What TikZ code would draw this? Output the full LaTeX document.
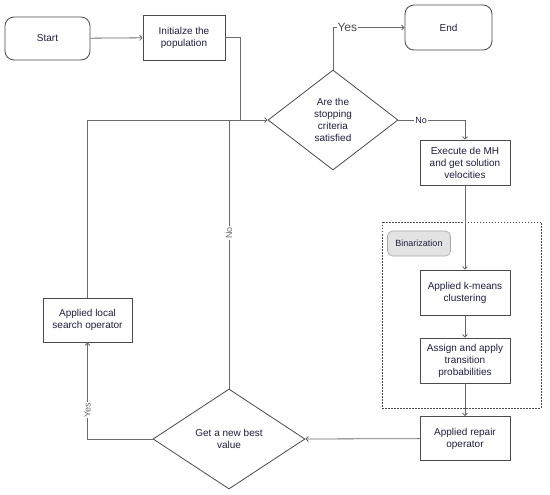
\documentclass[tikz,border=0pt]{standalone}
\usepackage{fontspec}
\setmainfont{Liberation Sans}
\usetikzlibrary{shapes.geometric,arrows.meta}
\definecolor{txt}{HTML}{1E1E40}
\definecolor{ln}{HTML}{6A6A6A}
\definecolor{bd}{HTML}{4A4A4A}
\tikzset{
  base/.style={draw=bd, line width=0.8pt, text=txt, font=\fontsize{10}{12}\selectfont, align=center, inner sep=2pt},
  procbox/.style={base, rectangle, minimum width=#1},
  procbox/.default=90pt,
  termbox/.style={base, rectangle, rounded corners=9pt},
  decbox/.style={base, diamond, inner sep=0pt},
  binbox/.style={draw=gray!70, fill=gray!22, rounded corners=5pt, line width=0.6pt, text=txt, font=\fontsize{9}{11}\selectfont, minimum width=63pt, minimum height=25pt},
  conn/.style={draw=ln, line width=0.8pt},
  arr/.style={conn, -{Straight Barb[length=2.5pt,width=5pt]}},
  lab/.style={fill=white, inner sep=1pt, text=txt, font=\fontsize{9}{10}\selectfont},
}
\begin{document}
\begin{tikzpicture}[x=1pt,y=-1pt]
\useasboundingbox (0,0) rectangle (550,495);
% dashed group
\draw[bd, line width=0.6pt, dash pattern=on 1.5pt off 1.5pt] (382,222) rectangle (541,408);
\node[binbox] (bin) at (419,243.5) {Binarization};
% nodes
\node[termbox, minimum width=85pt, minimum height=43pt] (start) at (47.5,38.5) {Start};
\node[procbox=82pt, minimum height=45pt] (init) at (184,37.5) {Initialze the\\population};
\node[decbox, minimum width=130pt, minimum height=100pt] (d1) at (333,120) {Are the\\stopping\\criteria\\satisfied};
\node[termbox, minimum width=87pt, minimum height=45pt] (end) at (448.5,27.5) {End};
\node[procbox, minimum height=45pt] (exec) at (465,162.5) {Execute de MH\\and get solution\\velocities};
\node[procbox, minimum height=45pt] (kmeans) at (465,292.5) {Applied k-means\\clustering};
\node[procbox, minimum height=45pt] (assign) at (465,360.5) {Assign and apply\\transition\\probabilities};
\node[procbox, minimum height=44pt] (repair) at (465,438.5) {Applied repair\\operator};
\node[decbox, minimum width=152pt, minimum height=100pt] (d2) at (229,439) {Get a new best\\value};
\node[procbox=89pt, minimum height=44pt] (local) at (87.5,320) {Applied local\\search operator};
\coordinate (j1) at (240,120);
% connectors
\draw[arr] (start) -- (init);
\draw[conn] (init.east) -| (j1);
\draw[arr] (j1) -- (d1.west);
\draw[arr] (d1.north) |- node[pos=0.6, fill=white, inner sep=1pt, text=bd, font=\fontsize{12}{12}\selectfont] {Yes} (end.west);
\draw[arr] (d1.east) -| node[pos=0.17, lab] {No} (exec.north);
\draw[arr] (exec) -- (kmeans);
\draw[arr] (kmeans) -- (assign);
\draw[arr] (assign) -- (repair);
\draw[arr] (repair) -- (d2.east);
\draw[arr] (d2.west) -| node[pos=0.65, lab, text=ln, rotate=90] {Yes} (local.south);
\draw[conn] (d2.north) -- node[pos=0.58, lab, text=ln, rotate=90] {No} (d2.north |- j1);
\draw[conn] (local.north) |- (j1);
\end{tikzpicture}
\end{document}
